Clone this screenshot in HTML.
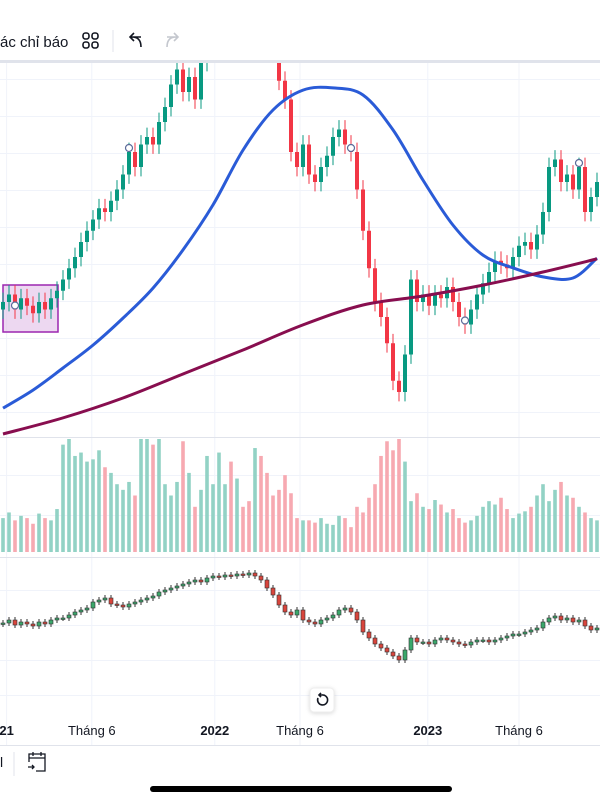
<!DOCTYPE html>
<html><head><meta charset="utf-8">
<style>
html,body{margin:0;padding:0;background:#fff;width:600px;height:800px;overflow:hidden;font-family:"Liberation Sans","Noto Sans CJK SC",sans-serif;}
svg{display:block}
</style></head>
<body>
<svg id="c" width="600" height="800">
  <g>
    <text x="0" y="47" font-size="15" fill="#131722">ác chỉ báo</text>
    <g fill="none" stroke="#131722" stroke-width="1.6">
      <rect x="83" y="33" width="6" height="6" rx="2.5"/><rect x="92" y="33" width="6" height="6" rx="2.5"/>
      <rect x="83" y="42" width="6" height="6" rx="2.5"/><rect x="92" y="42" width="6" height="6" rx="2.5"/>
    </g>
    <line x1="113" y1="30" x2="113" y2="52" stroke="#e0e3eb"/>
    <path d="M141 37 L130 37 M134 33 L130 37 L134 41 M130 37 Q141 36 141 47" fill="none" stroke="#131722" stroke-width="1.6"/>
    <path d="M167 37 L178 37 M174 33 L178 37 L174 41 M178 37 Q167 36 167 47" fill="none" stroke="#c4c7ce" stroke-width="1.6"/>
    <rect x="0" y="60" width="600" height="3" fill="#e0e3eb"/>
  </g>
  <g id="grid"></g>
  <rect x="3" y="285" width="55" height="47" fill="#e1bee7" fill-opacity="0.6" stroke="#9c27b0" stroke-width="1.5"/>
  <g id="vol"></g>
  <g id="main"></g>
  <g id="low"></g>
  <line x1="0" y1="437.5" x2="600" y2="437.5" stroke="#e0e3eb"/>
  <line x1="0" y1="557.5" x2="600" y2="557.5" stroke="#e0e3eb"/>
  <g>
    <rect x="310" y="688" width="24" height="24" rx="4" fill="#fff" stroke="#eee" style="filter:drop-shadow(0 1px 2px rgba(0,0,0,0.15))"/>
    <path d="M318 698 A5 5 0 1 0 322 695 L319 695 M321 693 L319 695 L321 697" fill="none" stroke="#131722" stroke-width="1.6"/>
  </g>
  <g id="xaxis" font-size="13" fill="#131722"></g>
  <line x1="0" y1="745.5" x2="600" y2="745.5" stroke="#e0e3eb"/>
  <text x="0" y="767" font-size="14" fill="#131722">l</text>
  <line x1="14" y1="752" x2="14" y2="776" stroke="#e0e3eb"/>
  <g fill="none" stroke="#131722" stroke-width="1.3">
    <path d="M29 762 L29 754 L45 754 L45 771 L36 771 M29 758 L45 758 M33 752 L33 756 M41 752 L41 756 M28 767 L34 767 M32 765 L34 767 L32 769"/>
  </g>
  <rect x="150" y="786" width="302" height="6" rx="3" fill="#000"/>
</svg>
<script>
const closes=[36,38,34,37,35,33,36,34,37,39,42,45,48,52,55,58,61,60,63,66,70,76,72,78,80,78,84,88,94,98,92,96,90,100,108,112,115,118,116,120,117,114,118,115,110,104,95,90,76,72,78,70,68,72,75,80,82,78,76,66,55,45,36,32,25,15,12,22,42,36,38,35,38,37,40,36,32,30,34,38,41,44,47,46,45,48,51,52,50,54,60,72,74,68,70,66,72,60,64,68];
const volumes=[30,35,28,32,30,25,34,30,28,38,95,100,85,88,80,82,90,75,70,60,55,62,50,100,100,95,100,60,50,62,98,70,40,55,85,60,88,60,80,65,40,45,92,85,70,50,55,68,52,30,28,28,26,30,25,24,32,30,22,40,35,48,60,85,98,90,100,80,45,52,40,38,46,42,35,38,30,26,28,32,40,45,42,48,38,30,34,36,40,50,60,45,55,62,50,48,40,35,30,28];
const lowerVals=[77,80,75,78,76,74,78,76,80,82,82,85,88,90,92,98,100,102,96,95,93,96,98,100,102,104,108,110,112,114,116,118,120,118,122,124,123,125,124,126,125,127,124,120,112,105,95,88,85,90,80,78,76,80,82,85,90,92,88,80,68,62,56,52,48,44,40,50,62,58,58,56,60,62,60,58,56,55,58,60,60,58,60,62,64,66,66,68,70,72,78,82,84,80,82,78,80,74,70,72];
const maFast=[7.7,12.5,18.4,24.5,31.7,39.7,49.9,61.9,76.5,87.2,92.5,93.1,91.2,81.9,68.5,56.5,48.5,45.1,42.7,42.4,47.7];
const maSlow=[0.8,5.1,10.4,16.8,23.2,29.9,35.2,37.6,40.5,44,47.5];
const xLabels=["21","Tháng 6","2022","Tháng 6","2023","Tháng 6"];
const xLabelIdx=[0.6,14.8,35.3,49.5,70.8,86];
const xLabelBold=[true,false,true,false,true,false];
const markerIdx=[2,21,58,77,96];

const NS="http://www.w3.org/2000/svg";
const xS=i=>3+i*6;
const yS=p=>437-p*3.75;
const vS=v=>552-v*1.13;
const lS=v=>700-v;
function mk(tag,attrs,parent){const e=document.createElementNS(NS,tag);for(const k in attrs)e.setAttribute(k,attrs[k]);parent.appendChild(e);return e;}
const grid=document.getElementById('grid'),main=document.getElementById('main'),vol=document.getElementById('vol'),low=document.getElementById('low'),xa=document.getElementById('xaxis');
for(let y=79;y<437;y+=37){const l=mk('line',{x1:0,x2:600,y1:y+.5,y2:y+.5,stroke:'#f0f3fa'},grid);

}
[475,515,590,625,660,695].forEach(y=>{const l=mk('line',{x1:0,x2:600,y1:y+.5,y2:y+.5,stroke:'#f0f3fa'},grid);

});
xLabelIdx.forEach(i=>{const l=mk('line',{x1:xS(i),x2:xS(i),y1:63,y2:745,stroke:'#f0f3fa'},grid);

});
closes.forEach((c,i)=>{const o=i?closes[i-1]:c-2;const up=c>=o;const col=up?'#089981':'#f23645';
const g=mk('g',{},main);


const hi=Math.max(o,c)+2.5,lo=Math.min(o,c)-2.5;
mk('line',{x1:xS(i),x2:xS(i),y1:yS(hi),y2:yS(lo),stroke:col,'stroke-width':1},g);
mk('rect',{x:xS(i)-2,y:yS(Math.max(o,c)),width:4,height:Math.max(1,Math.abs(c-o)*3.75),fill:col},g);
});
const clip=mk('clipPath',{id:'cp'},document.getElementById('c'));mk('rect',{x:0,y:63,width:600,height:374},clip);
main.setAttribute('clip-path','url(#cp)');
function curve(arr,step,col,w,name){
const pts=arr.map((v,k)=>[xS(Math.min(k*step,99)),yS(v)]);
let d='M'+pts[0][0]+' '+pts[0][1];
for(let k=0;k<pts.length-1;k++){const p0=pts[Math.max(k-1,0)],p1=pts[k],p2=pts[k+1],p3=pts[Math.min(k+2,pts.length-1)];
const c1=[p1[0]+(p2[0]-p0[0])/6,p1[1]+(p2[1]-p0[1])/6],c2=[p2[0]-(p3[0]-p1[0])/6,p2[1]-(p3[1]-p1[1])/6];
d+=' C'+c1[0]+' '+c1[1]+' '+c2[0]+' '+c2[1]+' '+p2[0]+' '+p2[1];}
const p=mk('path',{d:d,fill:'none',stroke:col,'stroke-width':w,'stroke-linejoin':'round'},main);

}
curve(maFast,5,'#2a5bd7',3,'ma-fast-line');
curve(maSlow,10,'#880e4f',3,'ma-slow-line');
markerIdx.forEach(i=>{const m=mk('circle',{cx:xS(i),cy:yS(closes[i])-4,r:3.5,fill:'#fff',stroke:'#5b6b9a','stroke-width':1.2},main);

});
volumes.forEach((v,i)=>{const o=i?closes[i-1]:closes[i]-2;const up=closes[i]>=o;
const r=mk('rect',{x:xS(i)-1.8,y:vS(v),width:3.6,height:552-vS(v),fill:up?'#92d2c5':'#f7a9b1'},vol);

});
lowerVals.forEach((c,i)=>{const o=i?lowerVals[i-1]:c-1;const up=c>=o;
const g=mk('g',{},low);


mk('line',{x1:xS(i),x2:xS(i),y1:lS(Math.max(o,c)+3),y2:lS(Math.min(o,c)-3),stroke:'#333','stroke-width':1},g);
mk('rect',{x:xS(i)-2,y:lS(Math.max(o,c)),width:4,height:Math.max(1.5,Math.abs(c-o)),fill:up?'#3aa86b':'#d9453c',stroke:'#333','stroke-width':0.6},g);});
xLabels.forEach((t,k)=>{const e=mk('text',{x:xS(xLabelIdx[k]),y:735,'text-anchor':'middle','font-weight':xLabelBold[k]?'bold':'normal'},xa);e.textContent=t;

});
</script>
</body></html>
